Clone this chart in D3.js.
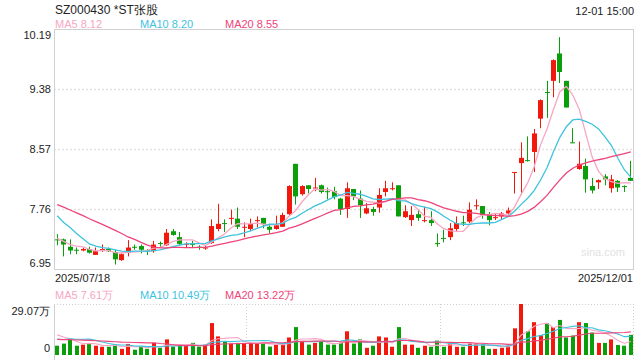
<!DOCTYPE html>
<html><head><meta charset="utf-8">
<script src="https://cdn.jsdelivr.net/npm/d3@7/dist/d3.min.js"></script>
<style>body{margin:0;background:#fff}svg{display:block;font-family:"Liberation Sans",Arial,sans-serif}</style>
</head><body><svg id="c" width="640" height="360"></svg>
<script>
const title = "SZ000430 *ST张股";
const timeLabel = "12-01 15:00";
const startDate = "2025/07/18";
const endDate = "2025/12/01";
const open  = [7.35,7.35,7.25,7.21,7.20,7.22,7.14,7.21,7.22,7.18,7.07,7.17,7.25,7.26,7.20,7.19,7.30,7.27,7.46,7.38,7.28,7.29,7.25,7.23,7.30,7.49,7.57,7.63,7.63,7.51,7.49,7.60,7.64,7.52,7.49,7.52,7.69,8.37,7.96,8.08,8.04,8.08,8.00,8.00,7.90,7.76,8.03,7.90,7.70,7.76,7.78,7.99,8.03,8.08,7.65,7.61,7.69,7.60,7.61,7.30,7.37,7.38,7.49,7.58,7.59,7.80,7.80,7.69,7.64,7.66,7.70,8.25,8.38,8.42,8.53,8.98,9.34,9.49,9.86,9.49,8.66,8.30,8.34,8.07,8.12,8.20,8.04,8.14,8.07,8.18];
const high  = [7.42,7.36,7.35,7.24,7.24,7.25,7.24,7.28,7.24,7.21,7.17,7.34,7.28,7.28,7.22,7.33,7.32,7.49,7.49,7.45,7.31,7.33,7.27,7.27,7.62,7.83,7.62,7.75,7.78,7.58,7.63,7.66,7.64,7.56,7.67,7.71,8.08,8.37,8.08,8.08,8.18,8.09,8.05,8.06,7.91,8.12,8.03,8.01,7.84,7.79,8.04,8.14,8.12,8.08,7.81,7.80,7.75,7.79,7.73,7.43,7.48,7.57,7.66,7.67,7.85,7.89,7.80,7.72,7.70,7.72,7.78,8.26,8.66,8.74,8.84,9.24,9.49,9.78,10.08,9.49,8.85,8.67,8.44,8.18,8.16,8.23,8.22,8.15,8.08,8.41];
const low   = [7.27,7.12,7.15,7.15,7.19,7.16,7.14,7.18,7.18,7.01,7.06,7.12,7.21,7.16,7.14,7.17,7.25,7.26,7.40,7.27,7.24,7.24,7.21,7.21,7.29,7.46,7.45,7.55,7.49,7.38,7.46,7.51,7.50,7.43,7.48,7.52,7.68,7.82,7.94,7.97,8.00,7.97,7.89,7.89,7.68,7.64,7.88,7.64,7.69,7.67,7.71,7.93,8.01,7.66,7.64,7.53,7.60,7.58,7.53,7.25,7.31,7.34,7.45,7.53,7.57,7.75,7.63,7.54,7.61,7.62,7.66,7.97,7.95,8.40,8.26,8.85,8.99,9.27,9.46,9.13,8.65,8.29,7.98,7.97,8.03,8.08,7.98,7.99,7.99,8.14];
const close = [7.34,7.28,7.20,7.20,7.22,7.17,7.19,7.22,7.19,7.08,7.15,7.24,7.24,7.21,7.19,7.28,7.29,7.44,7.41,7.29,7.29,7.28,7.24,7.24,7.53,7.56,7.56,7.64,7.52,7.52,7.56,7.61,7.56,7.48,7.54,7.68,8.07,7.93,8.07,8.03,8.05,7.99,7.99,7.92,7.76,8.04,7.93,7.81,7.77,7.72,7.95,8.04,8.04,7.66,7.73,7.68,7.64,7.61,7.57,7.29,7.36,7.50,7.57,7.57,7.75,7.81,7.68,7.61,7.65,7.70,7.74,8.26,8.45,8.41,8.78,9.23,9.33,9.77,9.61,9.13,8.65,8.37,8.16,8.01,8.15,8.16,8.16,8.05,8.06,8.14];
const volume = [5.3,6.5,9.2,5.3,5.9,6.3,5.3,4.7,4.7,5.9,3.5,6.3,3.0,4.8,3.5,6.9,4.1,8.9,4.8,5.3,5.3,6.9,4.8,5.9,18.2,10.6,7.8,6.5,6.9,6.9,6.9,6.5,6.5,4.8,5.9,5.9,10.0,15.9,8.0,5.9,6.9,7.8,5.9,5.9,6.9,13.5,6.5,8.9,4.1,5.3,10.6,10.0,4.7,15.9,5.9,5.9,4.1,5.3,4.7,8.2,4.7,6.5,4.7,4.7,6.5,6.5,6.3,3.5,3.5,4.1,5.3,15.2,29.07,13.5,18.7,11.3,18.2,15.9,20.0,10.0,11.1,18.7,18.2,12.8,6.9,6.9,8.9,5.7,5.3,11.5];
// sessions before the first visible candle (only feed the moving averages), estimated from MA line shapes
const priorClose = [7.95,8.00,7.98,7.96,8.02,7.94,7.97,7.99,7.93,7.97,8.18,7.90,8.00,7.92,7.87,7.49,7.42,7.29,7.28];
const priorVolume = [9.5,8.2,10.1,7.6,9.8,8.4,9.0,8.1,9.6,8.7,7.2,6.1,6.8,5.9,6.0,12.5,14.2,13.1,12.2];
const maPeriods = [5, 10, 20];
const maLegendPrice = ["8.12", "8.20", "8.55"];
const maLegendVolume = ["7.61万", "10.49万", "13.22万"];
const priceTicks = [6.95, 7.76, 8.57, 9.38, 10.19];
const volumeTicks = [0, 29.07];

const maColors = ["#f7a6c4", "#3ec3df", "#ee4479"];
const upColor = "#f2180c", downColor = "#0a9e0a";

const svg = d3.select("#c");
const L = 54, R = 634, T = 29, B = 269, VT = 304, VB = 355;
const n = close.length;
const x = d3.scaleBand().domain(d3.range(n)).range([L, R]).padding(0);
const y = d3.scaleLinear().domain([priceTicks[0], priceTicks[priceTicks.length-1]]).range([B, T]);
const yv = d3.scaleLinear().domain([volumeTicks[0], volumeTicks[1]]).range([VB, VT]);
const cx = i => x(i) + x.bandwidth() / 2;

function ma(all, period) {
  const off = all.length - n;
  const out = [];
  for (let i = 0; i < n; i++) {
    out.push(d3.mean(all.slice(off + i - period + 1, off + i + 1)));
  }
  return out;
}
const allClose = priorClose.concat(close);
const allVol = priorVolume.concat(volume);

svg.append("text").attr("x", 55).attr("y", 14).attr("font-size", 12).attr("fill", "#222").text(title);
svg.append("text").attr("x", R).attr("y", 15).attr("text-anchor", "end").attr("font-size", 11).attr("fill", "#222").text(timeLabel);

const legX = [55, 140, 225];
maPeriods.forEach((p, k) => {
  svg.append("text").attr("x", legX[k]).attr("y", 28).attr("font-size", 11).attr("fill", maColors[k])
    .text("MA" + p + " " + maLegendPrice[k]);
  svg.append("text").attr("x", legX[k]).attr("y", 299).attr("font-size", 11).attr("fill", maColors[k])
    .text("MA" + p + " " + maLegendVolume[k]);
});

const grid = svg.append("g");
priceTicks.slice(1, -1).forEach(t => {
  grid.append("line").attr("x1", L).attr("x2", R).attr("y1", Math.round(y(t)) + 0.5).attr("y2", Math.round(y(t)) + 0.5)
    .attr("stroke", "#e2e2e2").attr("stroke-width", 1.5).attr("stroke-dasharray", "2,2");
});
svg.append("rect").attr("x", L + 0.5).attr("y", T + 0.5).attr("width", R - L - 1).attr("height", B - T)
  .attr("fill", "none").attr("stroke", "#d0d0d0");

priceTicks.forEach((t, k) => {
  let yy = y(t) + 4;
  if (k === priceTicks.length - 1) yy = y(t) + 10;
  if (k === 0) yy = y(t) - 2;
  svg.append("text").attr("x", 51).attr("y", yy).attr("text-anchor", "end").attr("font-size", 11).attr("fill", "#222").text(t.toFixed(2));
});
svg.append("text").attr("x", 55).attr("y", 282).attr("font-size", 11).attr("fill", "#222").text(startDate);
svg.append("text").attr("x", R - 1).attr("y", 282).attr("text-anchor", "end").attr("font-size", 11).attr("fill", "#222").text(endDate);
svg.append("text").attr("x", 625).attr("y", 256).attr("text-anchor", "end").attr("font-size", 11).attr("fill", "#e2e2e2").text("sina.com");

const bw = 5;
const g = svg.append("g");
for (let i = 0; i < n; i++) {
  const up = close[i] >= open[i];
  const col = up ? upColor : downColor;
  const bx = Math.round(cx(i) - bw / 2);
  g.append("line").attr("x1", bx + 2.5).attr("x2", bx + 2.5).attr("y1", y(high[i])).attr("y2", y(low[i])).attr("stroke", col);
  const y0 = y(Math.max(open[i], close[i])), y1 = y(Math.min(open[i], close[i]));
  g.append("rect").attr("x", bx).attr("y", y0).attr("width", bw).attr("height", Math.max(1, y1 - y0)).attr("fill", col);
}
const line = d3.line().x((d, i) => cx(i)).y(d => y(d));
maPeriods.forEach((p, k) => {
  svg.append("path").datum(ma(allClose, p)).attr("d", line).attr("fill", "none").attr("stroke", maColors[k]).attr("stroke-width", 1.3);
});

const vg = svg.append("g");
vg.append("line").attr("x1", L).attr("x2", R).attr("y1", VT + 0.5).attr("y2", VT + 0.5).attr("stroke", "#d0d0d0").attr("stroke-dasharray", "1,2");
vg.append("line").attr("x1", L + 0.5).attr("x2", L + 0.5).attr("y1", VT).attr("y2", 360).attr("stroke", "#d0d0d0");
[1, 2, 3].forEach(k => {
  const xx = Math.round(L + (R - L) * k / 3) - 0.5;
  vg.append("line").attr("x1", xx).attr("x2", xx).attr("y1", VT).attr("y2", 360).attr("stroke", "#d0d0d0").attr("stroke-dasharray", "1,2");
});
svg.append("text").attr("x", 50).attr("y", 315).attr("text-anchor", "end").attr("font-size", 11).attr("fill", "#222").text(volumeTicks[1].toFixed(2) + "万");
svg.append("text").attr("x", 50).attr("y", 352).attr("text-anchor", "end").attr("font-size", 11).attr("fill", "#222").text("0");
const vbw = 4;
for (let i = 0; i < n; i++) {
  const up = close[i] >= open[i];
  const bx = Math.round(cx(i) - vbw / 2);
  vg.append("rect").attr("x", bx).attr("y", yv(volume[i])).attr("width", vbw).attr("height", yv(0) - yv(volume[i])).attr("fill", up ? upColor : downColor);
}
const vline = d3.line().x((d, i) => cx(i)).y(d => yv(d));
maPeriods.forEach((p, k) => {
  svg.append("path").datum(ma(allVol, p)).attr("d", vline).attr("fill", "none").attr("stroke", maColors[k]).attr("stroke-width", 1.1);
});
</script></body></html>
